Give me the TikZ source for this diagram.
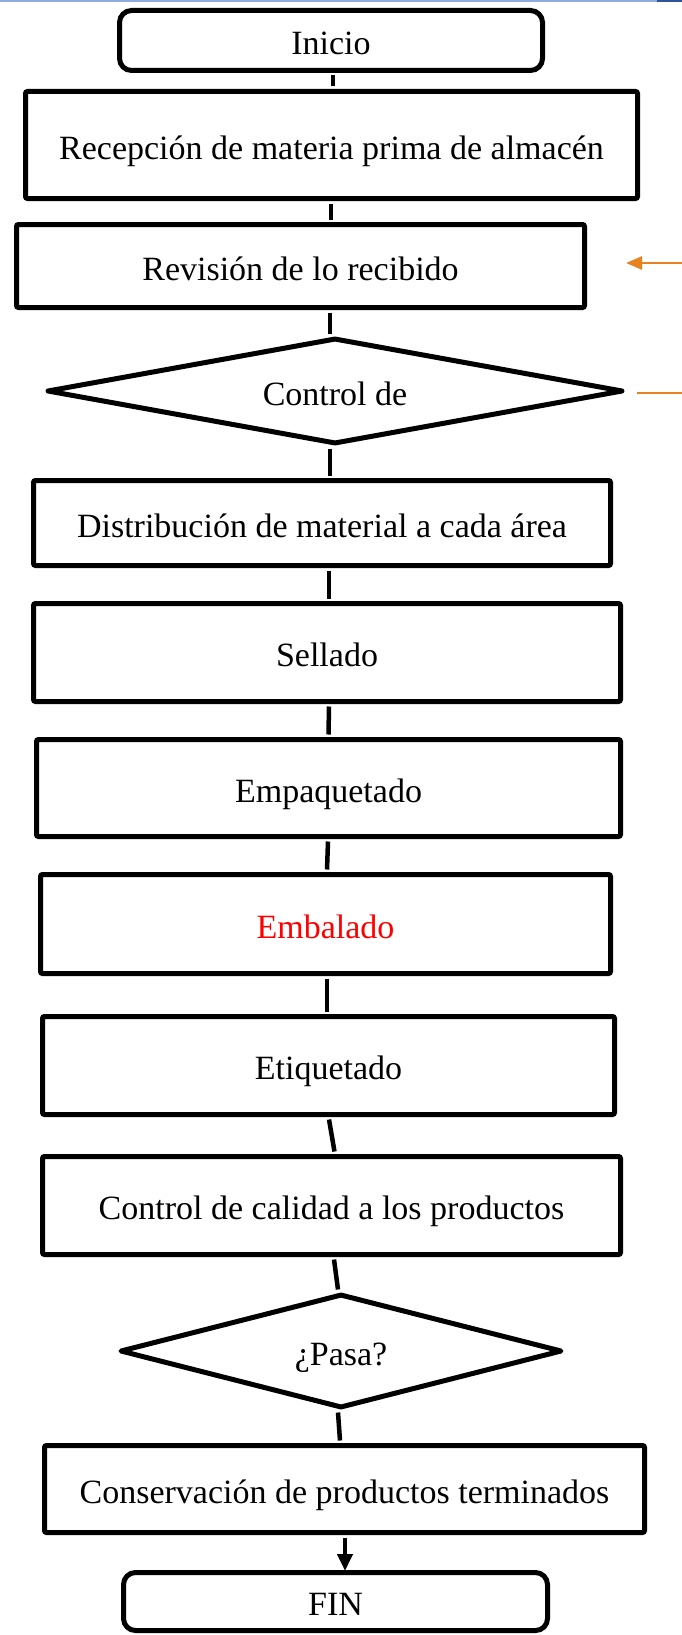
\documentclass[tikz,border=0pt]{standalone}
\usepackage{fontspec}
\setmainfont{Liberation Serif}
\usetikzlibrary{arrows.meta,shapes.geometric}
\definecolor{orangeline}{HTML}{E8821E}
\definecolor{lightblue}{HTML}{8FAADC}
\definecolor{darkblue}{HTML}{2F5597}
\definecolor{redtext}{HTML}{FF0000}
\begin{document}
\begin{tikzpicture}[x=1pt,y=-1pt,
  every node/.style={font=\fontsize{34}{40}\selectfont,text height=28.5pt,text depth=0pt},
  stepbox/.style={draw=black,line width=5pt,fill=white,rounded corners=2pt,inner sep=0pt,align=center},
  termbox/.style={stepbox,rounded corners=12pt},
  decbox/.style={draw=black,line width=5pt,fill=white,diamond,inner sep=0pt,aspect=5,line join=round},
  conn/.style={draw=black,line width=4.5pt},
  orangearrow/.style={draw=orangeline,line width=2.5pt}]
\useasboundingbox (0,0) rectangle (682,1635);
% top decorative line
\fill[lightblue] (0,0) rectangle (657,1.6);
\fill[darkblue] (657,0) rectangle (682,2.2);

\node[termbox,minimum width=423pt,minimum height=60pt] (inicio) at (331,40.5) {Inicio};
\node[stepbox,minimum width=612pt,minimum height=107pt] (rec) at (331.5,145) {Recepción de materia prima de almacén};
\node[stepbox,minimum width=568pt,minimum height=83pt] (rev) at (300.5,266) {Revisión de lo recibido};
\node[decbox,minimum width=576pt,minimum height=106pt] (ctrl) at (335,391) {};
\node at (335,391) (ctrltext) {Control de};
\node[stepbox,minimum width=577pt,minimum height=85pt] (dist) at (322,523) {Distribución de material a cada área};
\node[stepbox,minimum width=587pt,minimum height=98pt] (sell) at (327,652.5) {Sellado};
\node[stepbox,minimum width=584pt,minimum height=97pt] (emp) at (328.5,788) {Empaquetado};
\node[stepbox,minimum width=570pt,minimum height=99pt,text=redtext] (emb) at (325.5,924) {Embalado};
\node[stepbox,minimum width=572pt,minimum height=98pt] (eti) at (328.5,1065.5) {Etiquetado};
\node[stepbox,minimum width=578pt,minimum height=98pt] (cc) at (331.5,1205.5) {Control de calidad a los productos};
\node[decbox,minimum width=442pt,minimum height=114pt] (pasa) at (341,1351) {};
\node at (341,1351) (pasatext) {¿Pasa?};
\node[stepbox,minimum width=600pt,minimum height=87pt] (cons) at (344.5,1489) {Conservación de productos terminados};
\node[termbox,minimum width=424pt,minimum height=58pt] (fin) at (335.5,1601.5) {FIN};

% connectors
\draw[conn] ([xshift=2pt,yshift=-2.5pt]inicio.south) -- ([xshift=1.5pt,yshift=2.5pt]rec.north);
\draw[conn] ([xshift=-0.5pt,yshift=-2.5pt]rec.south) -- ([xshift=30.5pt,yshift=2.5pt]rev.north);
\draw[conn] ([xshift=29.5pt,yshift=-2.5pt]rev.south) -- ([xshift=-5pt,yshift=2pt]ctrl.north);
\draw[conn] ([xshift=-5pt,yshift=-2pt]ctrl.south) -- ([xshift=8pt,yshift=2.5pt]dist.north);
\draw[conn] ([xshift=7pt,yshift=-2.5pt]dist.south) -- ([xshift=2pt,yshift=2.5pt]sell.north);
\draw[conn] ([xshift=2pt,yshift=-2.5pt]sell.south) -- ([xshift=0pt,yshift=2.5pt]emp.north);
\draw[conn] ([xshift=-0.5pt,yshift=-2.5pt]emp.south) -- ([xshift=1.5pt,yshift=2.5pt]emb.north);
\draw[conn] ([xshift=1.5pt,yshift=-2.5pt]emb.south) -- ([xshift=-1.5pt,yshift=2.5pt]eti.north);
\draw[conn] ([xshift=0.5pt,yshift=-2.5pt]eti.south) -- ([xshift=3pt,yshift=2.5pt]cc.north);
\draw[conn] ([xshift=2.5pt,yshift=-2.5pt]cc.south) -- ([xshift=-3pt,yshift=2pt]pasa.north);
\draw[conn] ([xshift=-3pt,yshift=-2pt]pasa.south) -- ([xshift=-4.5pt,yshift=2.5pt]cons.north);
\draw[conn,-{Triangle[length=17pt,width=15pt]}] ([xshift=0.5pt,yshift=-2.5pt]cons.south) -- ([xshift=9.5pt,yshift=-1pt]fin.north);

% orange arrows at right edge
\coordinate (o1start) at (682,263);
\coordinate (o1end) at (626,263);
\coordinate (o2start) at (682,393);
\coordinate (o2end) at (637,393);
\draw[orangearrow,-{Triangle[length=16pt,width=13pt]}] (o1start) -- (o1end);
\draw[orangearrow] (o2start) -- (o2end);
\end{tikzpicture}
\end{document}
